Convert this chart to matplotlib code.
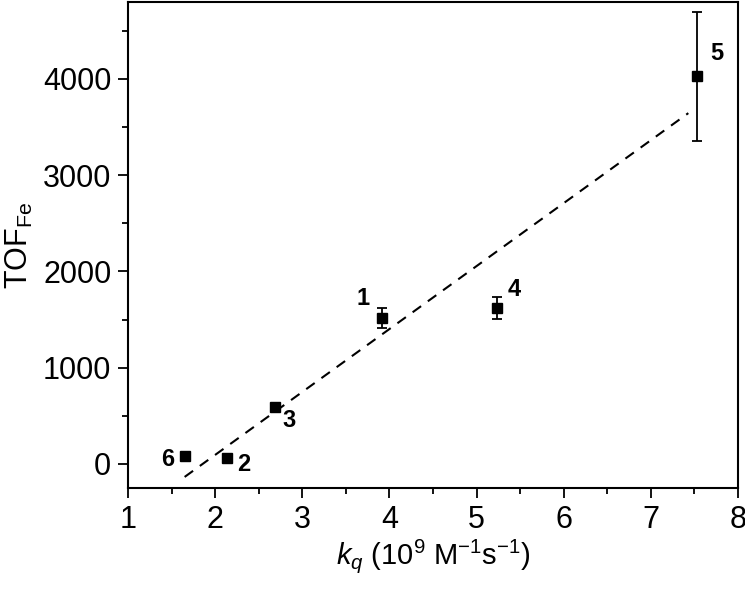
import matplotlib
matplotlib.use("Agg")
import matplotlib.pyplot as plt
import numpy as np
from matplotlib.ticker import MultipleLocator

plt.rcParams['font.family'] = ['Liberation Sans', 'DejaVu Sans']
plt.rcParams['mathtext.fontset'] = 'custom'
plt.rcParams['mathtext.rm'] = 'Liberation Sans'
plt.rcParams['mathtext.it'] = 'Liberation Sans:italic'
plt.rcParams['mathtext.bf'] = 'Liberation Sans:bold'

# data
labels = ['6', '2', '3', '1', '4', '5']
kq = [1.65, 2.14, 2.69, 3.92, 5.24, 7.53]
tof = [85, 62, 592, 1516, 1620, 4030]
tof_err = [0, 0, 0, 104, 114, 670]
fit_x = [1.65, 7.43]
fit_y = [-135, 3645]
label_offsets = {'6': (-12, -3), '2': (12, -4.5), '3': (10, -10),
                 '1': (-14, 14), '4': (12, 13), '5': (14, 16)}

fig = plt.figure(figsize=(7.45, 5.99), dpi=100)
ax = fig.add_axes([0.1718, 0.1853, 0.8188, 0.8114])

ax.plot(fit_x, fit_y, color='black', linestyle=(0, (5, 4)), linewidth=1.5)

has_err = [i for i, e in enumerate(tof_err) if e > 0]
ax.errorbar([kq[i] for i in has_err], [tof[i] for i in has_err],
            yerr=[tof_err[i] for i in has_err], fmt='none',
            ecolor='black', elinewidth=1.3, capsize=3.8, capthick=1.3)
ax.plot(kq, tof, 's', color='black', markersize=7.5, zorder=3)

for lab, x, y in zip(labels, kq, tof):
    dx, dy = label_offsets[lab]
    ax.annotate(lab, (x, y), xytext=(dx, dy), textcoords='offset points',
                ha='center', va='center', fontsize=17, fontweight='bold')

ax.set_xlim(1, 8)
ax.set_ylim(-250, 4800)
ax.xaxis.set_major_locator(MultipleLocator(1))
ax.xaxis.set_minor_locator(MultipleLocator(0.5))
ax.yaxis.set_major_locator(MultipleLocator(1000))
ax.yaxis.set_minor_locator(MultipleLocator(500))
ax.tick_params(which='both', direction='out', width=1.3, labelsize=22, top=False, right=False)
ax.tick_params(which='major', length=7, pad=5)
ax.tick_params(which='minor', length=4.5)
for s in ax.spines.values():
    s.set_linewidth(1.5)

ax.set_xlabel(r'$k_q$ (10$^{9}$ M$^{\mathregular{-1}}$s$^{\mathregular{-1}}$)', fontsize=21, labelpad=2)
ax.set_ylabel(r'TOF$_{\mathregular{Fe}}$', fontsize=22, labelpad=6)

fig.savefig('out.png', dpi=100)
